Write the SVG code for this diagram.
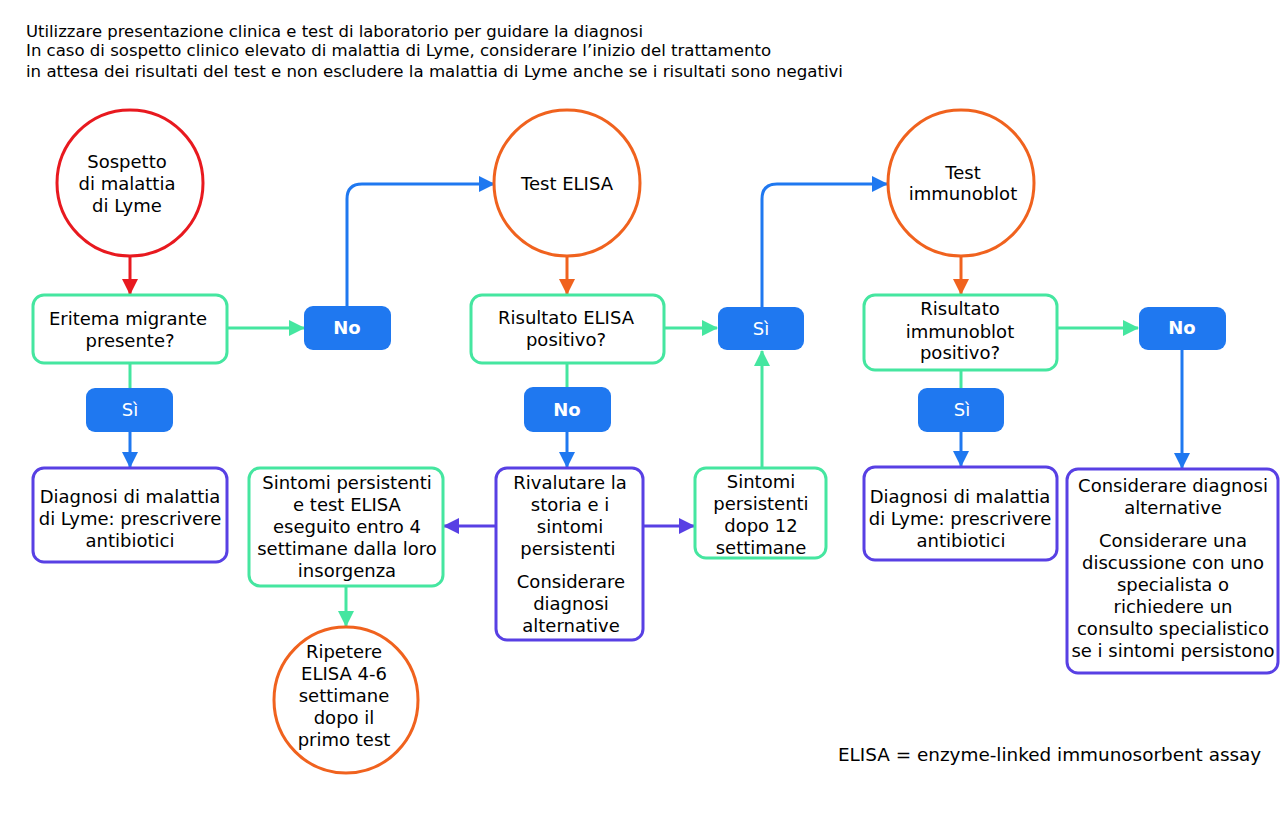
<svg xmlns="http://www.w3.org/2000/svg" width="1280" height="815" viewBox="0 0 1280 815">
<style>
text{font-family:"DejaVu Sans","Liberation Sans",sans-serif;font-size:18px;fill:#000;text-anchor:middle}
.hdr{font-family:"DejaVu Sans Condensed","Liberation Sans",sans-serif;font-size:16px;text-anchor:start}
.foot{text-anchor:start;font-size:18.4px}
.tag rect{fill:#1f78f0}
.tag text{fill:#fff;font-weight:bold}
.tag text.s{font-weight:normal}
.gbox{fill:#fff;stroke:#45e6a0;stroke-width:3}
.pbox{fill:#fff;stroke:#5840e4;stroke-width:3}
.ocirc{fill:#fff;stroke:#f0621e;stroke-width:3}
.rcirc{fill:#fff;stroke:#e8191f;stroke-width:3}
.c{fill:none;stroke-width:3}
.red{stroke:#e8191f}.org{stroke:#f0621e}.grn{stroke:#45e6a0}.blu{stroke:#1f78f0}.pur{stroke:#5840e4}
</style>
<defs>
<marker id="aR" markerUnits="userSpaceOnUse" markerWidth="16" markerHeight="16" refX="15" refY="8" orient="auto"><path d="M0,0 L16,8 L0,16 z" fill="#e8191f"/></marker>
<marker id="aO" markerUnits="userSpaceOnUse" markerWidth="16" markerHeight="16" refX="15" refY="8" orient="auto"><path d="M0,0 L16,8 L0,16 z" fill="#f0621e"/></marker>
<marker id="aG" markerUnits="userSpaceOnUse" markerWidth="16" markerHeight="16" refX="15" refY="8" orient="auto"><path d="M0,0 L16,8 L0,16 z" fill="#45e6a0"/></marker>
<marker id="aB" markerUnits="userSpaceOnUse" markerWidth="16" markerHeight="16" refX="15" refY="8" orient="auto"><path d="M0,0 L16,8 L0,16 z" fill="#1f78f0"/></marker>
<marker id="aP" markerUnits="userSpaceOnUse" markerWidth="16" markerHeight="16" refX="15" refY="8" orient="auto"><path d="M0,0 L16,8 L0,16 z" fill="#5840e4"/></marker>
</defs>
<rect width="1280" height="815" fill="#fff"/>

<g id="header">
<text class="hdr" x="26" y="37" textLength="617" lengthAdjust="spacingAndGlyphs">Utilizzare presentazione clinica e test di laboratorio per guidare la diagnosi</text>
<text class="hdr" x="26" y="56" textLength="745" lengthAdjust="spacingAndGlyphs">In caso di sospetto clinico elevato di malattia di Lyme, considerare l’inizio del trattamento</text>
<text class="hdr" x="26" y="77" textLength="817" lengthAdjust="spacingAndGlyphs">in attesa dei risultati del test e non escludere la malattia di Lyme anche se i risultati sono negativi</text>
</g>

<g id="connectors">
<path class="c red" d="M130,256 V294" marker-end="url(#aR)"/>
<path class="c grn" d="M227,328 H304" marker-end="url(#aG)"/>
<path class="c blu" d="M347,306 V199 Q347,184 362,184 H494" marker-end="url(#aB)"/>
<path class="c grn" d="M130,363 V388"/>
<path class="c blu" d="M130,432 V467" marker-end="url(#aB)"/>
<path class="c org" d="M567,256 V294" marker-end="url(#aO)"/>
<path class="c grn" d="M664,328 H717" marker-end="url(#aG)"/>
<path class="c blu" d="M762,307 V199 Q762,184 777,184 H887" marker-end="url(#aB)"/>
<path class="c grn" d="M567,363 V387"/>
<path class="c blu" d="M567,432 V467" marker-end="url(#aB)"/>
<path class="c pur" d="M496,526 H444" marker-end="url(#aP)"/>
<path class="c pur" d="M643,526 H694" marker-end="url(#aP)"/>
<path class="c grn" d="M762,468 V351" marker-end="url(#aG)"/>
<path class="c grn" d="M346,586 V626" marker-end="url(#aG)"/>
<path class="c org" d="M961,256 V294" marker-end="url(#aO)"/>
<path class="c grn" d="M1057,328 H1138" marker-end="url(#aG)"/>
<path class="c grn" d="M961,370 V388"/>
<path class="c blu" d="M961,432 V466" marker-end="url(#aB)"/>
<path class="c blu" d="M1182,350 V468" marker-end="url(#aB)"/>
</g>

<g id="n-sospetto">
<circle class="rcirc" cx="130" cy="183" r="73"/>
<text x="127" y="168">Sospetto</text>
<text x="127" y="190">di malattia</text>
<text x="127" y="212">di Lyme</text>
</g>

<g id="n-eritema">
<rect class="gbox" x="33" y="295" width="194" height="68" rx="11"/>
<text x="128" y="325">Eritema migrante</text>
<text x="130" y="347">presente?</text>
</g>

<g id="t-no1" class="tag">
<rect x="304" y="306" width="87" height="44" rx="9"/>
<text x="347" y="334">No</text>
</g>

<g id="t-si1" class="tag">
<rect x="86" y="388" width="87" height="44" rx="9"/>
<text class="s" x="130" y="416">Sì</text>
</g>

<g id="n-diag1">
<rect class="pbox" x="33" y="468" width="194" height="94" rx="11"/>
<text x="130" y="503">Diagnosi di malattia</text>
<text x="130" y="525">di Lyme: prescrivere</text>
<text x="130" y="547">antibiotici</text>
</g>

<g id="n-elisa">
<circle class="ocirc" cx="567" cy="183" r="73"/>
<text x="567" y="190">Test ELISA</text>
</g>

<g id="n-risultato-elisa">
<rect class="gbox" x="471" y="295" width="193" height="68" rx="11"/>
<text x="566" y="324">Risultato ELISA</text>
<text x="566" y="346">positivo?</text>
</g>

<g id="t-si2" class="tag">
<rect x="718" y="307" width="86" height="43" rx="9"/>
<text class="s" x="761" y="335">Sì</text>
</g>

<g id="t-no2" class="tag">
<rect x="524" y="387" width="87" height="45" rx="9"/>
<text x="567" y="416">No</text>
</g>

<g id="n-rivalutare">
<rect class="pbox" x="496" y="468" width="147" height="172" rx="11"/>
<text x="570" y="489">Rivalutare la</text>
<text x="570" y="511">storia e i</text>
<text x="570" y="533">sintomi</text>
<text x="568" y="555">persistenti</text>
<text x="571" y="588">Considerare</text>
<text x="571" y="610">diagnosi</text>
<text x="571" y="632">alternative</text>
</g>

<g id="n-sintomi-elisa">
<rect class="gbox" x="249" y="468" width="194" height="118" rx="11"/>
<text x="347" y="489">Sintomi persistenti</text>
<text x="347" y="511">e test ELISA</text>
<text x="347" y="533">eseguito entro 4</text>
<text x="347" y="555">settimane dalla loro</text>
<text x="347" y="577">insorgenza</text>
</g>

<g id="n-sintomi-12">
<rect class="gbox" x="695" y="468" width="131" height="90" rx="11"/>
<text x="761" y="488">Sintomi</text>
<text x="761" y="510">persistenti</text>
<text x="761" y="532">dopo 12</text>
<text x="761" y="554">settimane</text>
</g>

<g id="n-ripetere">
<ellipse class="ocirc" cx="346" cy="700" rx="72" ry="73"/>
<text x="344" y="658">Ripetere</text>
<text x="344" y="680">ELISA 4-6</text>
<text x="344" y="702">settimane</text>
<text x="344" y="724">dopo il</text>
<text x="344" y="746">primo test</text>
</g>

<g id="n-immunoblot">
<circle class="ocirc" cx="961" cy="183" r="73"/>
<text x="963" y="179">Test</text>
<text x="963" y="200">immunoblot</text>
</g>

<g id="n-risultato-immunoblot">
<rect class="gbox" x="864" y="295" width="193" height="75" rx="11"/>
<text x="960" y="315">Risultato</text>
<text x="960" y="338">immunoblot</text>
<text x="960" y="359">positivo?</text>
</g>

<g id="t-no3" class="tag">
<rect x="1139" y="307" width="87" height="43" rx="9"/>
<text x="1182" y="334">No</text>
</g>

<g id="t-si3" class="tag">
<rect x="918" y="388" width="86" height="44" rx="9"/>
<text class="s" x="962" y="416">Sì</text>
</g>

<g id="n-diag2">
<rect class="pbox" x="864" y="467" width="193" height="93" rx="11"/>
<text x="960" y="503">Diagnosi di malattia</text>
<text x="960" y="525">di Lyme: prescrivere</text>
<text x="961" y="547">antibiotici</text>
</g>

<g id="n-alternative">
<rect class="pbox" x="1067" y="469" width="211" height="204" rx="11"/>
<text x="1173" y="492">Considerare diagnosi</text>
<text x="1173" y="514">alternative</text>
<text x="1173" y="547">Considerare una</text>
<text x="1173" y="569">discussione con uno</text>
<text x="1173" y="591">specialista o</text>
<text x="1173" y="613">richiedere un</text>
<text x="1173" y="635">consulto specialistico</text>
<text x="1173" y="657">se i sintomi persistono</text>
</g>

<g id="footer">
<text class="foot" x="838" y="761">ELISA = enzyme-linked immunosorbent assay</text>
</g>
</svg>
